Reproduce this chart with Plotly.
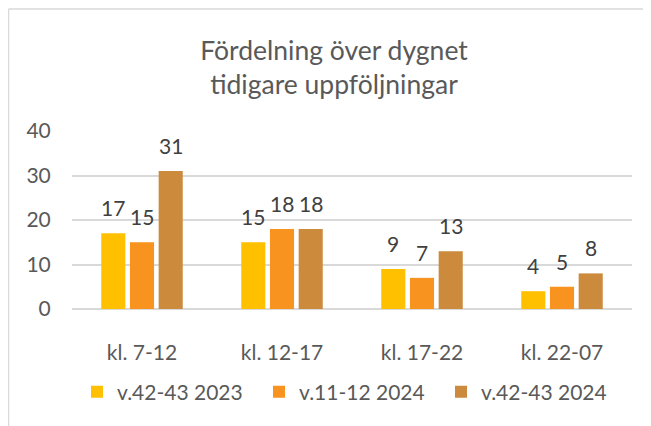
import plotly.graph_objects as go

categories = ["kl. 7-12", "kl. 12-17", "kl. 17-22", "kl. 22-07"]
series_names = ["v.42-43 2023", "v.11-12 2024", "v.42-43 2024"]
v2023_42 = [17, 15, 9, 4]
v2024_11 = [15, 18, 7, 5]
v2024_42 = [31, 18, 13, 8]
y_ticks = [0, 10, 20, 30, 40]

colors = ["#FFC000", "#F7931E", "#CC8A3C"]
values = [v2023_42, v2024_11, v2024_42]

FONT = "Lato"
OFF = 8  # default page body margin
BARGAP = 0.385
fig = go.Figure()
for name, vals, c in zip(series_names, values, colors):
    fig.add_trace(go.Bar(
        x=categories, y=vals, name=name, marker=dict(color=c, line=dict(width=0)),
        cliponaxis=False,
    ))

# data labels above each bar
slot = (1 - BARGAP) / len(values)
annotations = []
for k, vals in enumerate(values):
    off = (k - (len(values) - 1) / 2) * slot
    for i, v in enumerate(vals):
        annotations.append(dict(
            x=i + off, y=v, xref="x", yref="y", text=str(v), showarrow=False,
            yanchor="bottom", yshift=11,
            font=dict(family=FONT, size=21, color="#404040"),
        ))

W, H = 651 - OFF, 426 - OFF
L, R, T, B = 72 - OFF, 651 - 632, 131 - OFF, 426 - 309
pw, ph = W - L - R, H - T - B

def px_x(x):
    return (x - OFF - L) / pw

def px_y(y):
    return (H - B - (y - OFF)) / ph

fig.update_layout(
    width=W, height=H,
    margin=dict(l=L, r=R, t=T, b=B),
    paper_bgcolor="white", plot_bgcolor="white",
    barmode="group", bargap=BARGAP, bargroupgap=0.16,
    title=dict(text="Fördelning över dygnet<br>tidigare uppföljningar",
               x=(334 - OFF) / W, xanchor="center", xref="container",
               y=1 - (60 - OFF) / H, yanchor="top", yref="container",
               font=dict(family=FONT, size=26.5, color="#595959")),
    font=dict(family=FONT, color="#595959"),
    showlegend=True,
    legend=dict(orientation="h", x=px_x(350), xanchor="center", y=px_y(392), yanchor="middle",
                font=dict(family=FONT, size=21, color="#595959"),
                itemwidth=30, tracegroupgap=0, traceorder="normal", entrywidth=137),
    xaxis=dict(showgrid=False, showline=False, ticks="outside", ticklen=25, tickcolor="rgba(0,0,0,0)",
               tickfont=dict(family=FONT, size=21, color="#595959"), zeroline=False),
    yaxis=dict(range=[0, 40], tickvals=y_ticks, showgrid=True, gridcolor="#D9D9D9", gridwidth=1.5,
               zeroline=True, zerolinecolor="#D9D9D9", zerolinewidth=1.5, showline=False,
               ticks="outside", ticklen=16, tickcolor="rgba(0,0,0,0)",
               tickfont=dict(family=FONT, size=21, color="#595959")),
    annotations=annotations,
    shapes=[
        dict(type="line", xref="paper", yref="paper", x0=px_x(8.5), x1=px_x(660), y0=px_y(9), y1=px_y(9),
             line=dict(color="#D9D9D9", width=1.5)),
        dict(type="line", xref="paper", yref="paper", x0=px_x(8.5), x1=px_x(8.5), y0=px_y(9), y1=px_y(440),
             line=dict(color="#D9D9D9", width=1.5)),
    ],
)
fig.write_html("out.html")
